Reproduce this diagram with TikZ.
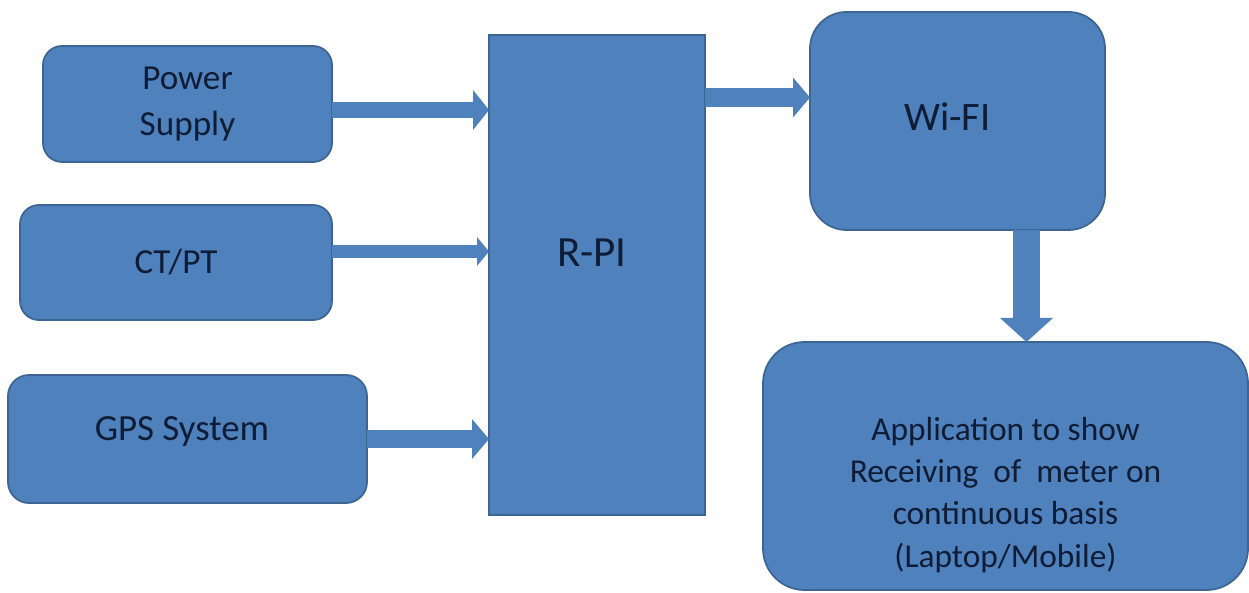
\documentclass[tikz,border=0pt]{standalone}
\usepackage{fontspec}
\setmainfont{Carlito}
\usepackage{tikz}
\usetikzlibrary{positioning,arrows.meta}
\definecolor{boxblue}{HTML}{4F81BD}
\definecolor{boxline}{HTML}{3C6594}
\definecolor{boxtext}{HTML}{0F1C35}
\tikzstyle{block}=[draw=boxline, fill=boxblue, line width=1pt,
    inner sep=0pt, outer sep=0pt, text=boxtext,
    text centered, align=center]
\tikzstyle{unit}=[style=block, rounded corners=0.38cm,
    font=\fontsize{20}{26}\selectfont]
\tikzstyle{pipe}=[draw=boxblue, line width=0.32cm,
    -{Triangle[width=0.8cm,length=0.32cm,line width=0pt]}]
\tikzstyle{boxlabel}=[text=boxtext, align=center, inner sep=0pt]

\begin{document}
\begin{tikzpicture}
    \useasboundingbox (0,0) rectangle (24.98,11.84);
    % inputs
    \node[unit, minimum width=5.78cm, minimum height=2.32cm] (power) at (3.75,9.76) {Power\\Supply};
    \node[unit, minimum width=6.24cm, minimum height=2.30cm] (ctpt) at (3.52,6.59) {CT/PT};
    \node[unit, minimum width=7.18cm, minimum height=2.56cm, rounded corners=0.42cm,
        label={[boxlabel, font=\fontsize{21}{26}\selectfont, xshift=-0.11cm, yshift=0.14cm]center:GPS System}] (gps) at (3.75,3.06) {};
    % controller
    \node[block, minimum width=4.32cm, minimum height=9.6cm,
        label={[boxlabel, font=\fontsize{24.5}{30}\selectfont, xshift=-0.1cm, yshift=0.44cm]center:R-PI}] (rpi) at (11.94,6.34) {};
    % outputs
    \node[block, rounded corners=0.73cm, minimum width=5.9cm, minimum height=4.36cm,
        label={[boxlabel, font=\fontsize{23}{28}\selectfont, xshift=-0.2cm, yshift=0.08cm]center:Wi-FI}] (wifi) at (19.15,9.42) {};
    \node[block, rounded corners=0.83cm, minimum width=9.7cm, minimum height=4.96cm,
        label={[boxlabel, font=\fontsize{19}{24}\selectfont, yshift=-0.58cm]center:{Application to show\\Receiving\ \ of\ \ meter on\\continuous basis\\(Laptop/Mobile)}}] (app) at (20.11,2.52) {};

    % connectors
    \coordinate (pwrout) at ([yshift=-0.12cm]power.east);
    \coordinate (ctout) at ([yshift=0.22cm]ctpt.east);
    \coordinate (wifiin) at ([yshift=0.47cm]wifi.west);
    \coordinate (wifiout) at ([xshift=1.38cm]wifi.south);
    \draw[pipe] (pwrout) -- (pwrout -| rpi.west);
    \draw[pipe, line width=0.26cm, -{Triangle[width=0.58cm,length=0.24cm,line width=0pt]}] (ctout) -- (ctout -| rpi.west);
    \draw[pipe, line width=0.36cm, -{Triangle[width=0.8cm,length=0.34cm,line width=0pt]}] (gps.east) -- (gps.east -| rpi.west);
    \draw[pipe, line width=0.38cm, -{Triangle[width=0.8cm,length=0.34cm,line width=0pt]}] (wifiin -| rpi.east) -- (wifiin);
    \draw[pipe, line width=0.54cm, -{Triangle[width=1.06cm,length=0.48cm,line width=0pt]}] (wifiout) -- (wifiout |- app.north);
\end{tikzpicture}
\end{document}
